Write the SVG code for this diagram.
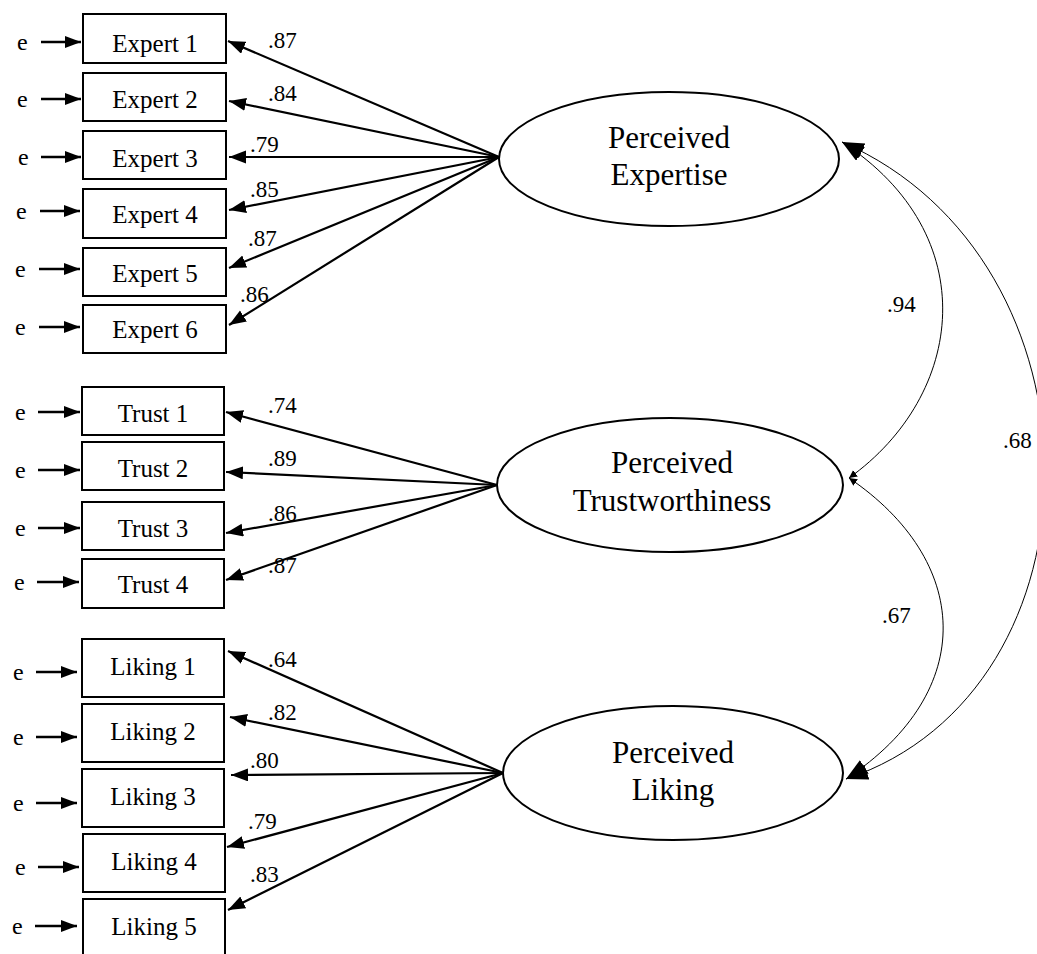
<svg xmlns="http://www.w3.org/2000/svg" width="1037" height="954" viewBox="0 0 1037 954">
<style>
text{font-family:"Liberation Serif","Times New Roman",serif;fill:#000}
.box{fill:#fff;stroke:#000;stroke-width:2}
.ell{fill:#fff;stroke:#000;stroke-width:2}
.bt{font-size:25px;text-anchor:middle}
.et{font-size:31px;text-anchor:middle}
.lb{font-size:23px}
.e{font-size:24px}
.ld{stroke:#000;stroke-width:2.2;fill:none;marker-end:url(#ah)}
.er{stroke:#000;stroke-width:2.4;fill:none;marker-end:url(#eh)}
.cv{stroke:#000;stroke-width:1;fill:none}
</style>
<defs>
<marker id="ah" markerUnits="userSpaceOnUse" markerWidth="18" markerHeight="14" refX="17" refY="6.5" orient="auto"><path d="M0,0 L17,6.5 L0,13 z" fill="#000"/></marker>
<marker id="eh" markerUnits="userSpaceOnUse" markerWidth="17" markerHeight="13" refX="16" refY="6" orient="auto"><path d="M0,0 L16,6 L0,12 z" fill="#000"/></marker>
<marker id="bh" markerUnits="userSpaceOnUse" markerWidth="23" markerHeight="17" refX="22" refY="8" orient="auto-start-reverse"><path d="M0,0 L22,8 L0,16 z" fill="#000"/></marker>
<marker id="sh" markerUnits="userSpaceOnUse" markerWidth="10" markerHeight="10" refX="8" refY="4" orient="auto-start-reverse"><path d="M0,0 L8,4 L0,8 z" fill="#000"/></marker>
</defs>

<g id="connectors">
<!-- error arrows -->
<path class="er" d="M41,42 H81"/>
<path class="er" d="M41,99 H81"/>
<path class="er" d="M41,157 H81"/>
<path class="er" d="M40,211 H80"/>
<path class="er" d="M39,269 H80"/>
<path class="er" d="M39,327 H80"/>
<path class="er" d="M38,412 H80"/>
<path class="er" d="M38,470 H80"/>
<path class="er" d="M38,528 H80"/>
<path class="er" d="M37,582 H79"/>
<path class="er" d="M36,672 H77"/>
<path class="er" d="M36,737 H77"/>
<path class="er" d="M36,803 H77"/>
<path class="er" d="M38,867 H79"/>
<path class="er" d="M35,926 H77"/>
<!-- loadings -->
<path class="ld" d="M499,157 L228,41"/>
<path class="ld" d="M499,157 L229,101"/>
<path class="ld" d="M499,157 L229,157"/>
<path class="ld" d="M499,157 L229,210"/>
<path class="ld" d="M499,157 L229,268"/>
<path class="ld" d="M499,157 L229,325"/>
<path class="ld" d="M497,485 L226,412"/>
<path class="ld" d="M497,485 L226,472"/>
<path class="ld" d="M497,485 L226,533"/>
<path class="ld" d="M497,485 L226,580"/>
<path class="ld" d="M503,773 L228,651"/>
<path class="ld" d="M503,773 L230,717"/>
<path class="ld" d="M503,773 L231,775"/>
<path class="ld" d="M503,773 L227,847"/>
<path class="ld" d="M503,773 L228,910"/>
<!-- covariances -->
<path class="cv" d="M849,478 C965,395 985,235 842,142" marker-start="url(#sh)" marker-end="url(#bh)"/>
<path class="cv" d="M849,478 C970,560 980,690 846,779" marker-start="url(#sh)" marker-end="url(#bh)"/>
<path class="cv" d="M842,142 C1112,260 1112,690 846,779" marker-start="url(#bh)" marker-end="url(#bh)"/>
<!-- labels -->
<text class="lb" x="268" y="48">.87</text>
<text class="lb" x="268" y="101">.84</text>
<text class="lb" x="250" y="152">.79</text>
<text class="lb" x="250" y="197">.85</text>
<text class="lb" x="248" y="246">.87</text>
<text class="lb" x="240" y="302">.86</text>
<text class="lb" x="268" y="413">.74</text>
<text class="lb" x="268" y="466">.89</text>
<text class="lb" x="268" y="521">.86</text>
<text class="lb" x="268" y="573">.87</text>
<text class="lb" x="268" y="667">.64</text>
<text class="lb" x="268" y="720">.82</text>
<text class="lb" x="250" y="768">.80</text>
<text class="lb" x="248" y="829">.79</text>
<text class="lb" x="250" y="882">.83</text>
<text class="lb" x="887" y="312">.94</text>
<text class="lb" x="882" y="623">.67</text>
<text class="lb" x="1003" y="448">.68</text>
</g>

<g id="errors">
<text class="e" x="17" y="50">e</text>
<text class="e" x="17" y="107">e</text>
<text class="e" x="18" y="165">e</text>
<text class="e" x="16" y="219">e</text>
<text class="e" x="15" y="277">e</text>
<text class="e" x="15" y="335">e</text>
<text class="e" x="15" y="420">e</text>
<text class="e" x="15" y="478">e</text>
<text class="e" x="15" y="536">e</text>
<text class="e" x="14" y="590">e</text>
<text class="e" x="13" y="680">e</text>
<text class="e" x="13" y="745">e</text>
<text class="e" x="13" y="811">e</text>
<text class="e" x="15" y="875">e</text>
<text class="e" x="12" y="934">e</text>
</g>

<g id="expert1"><rect class="box" x="83" y="14" width="143" height="49"/><text class="bt" x="155" y="52">Expert 1</text></g>
<g id="expert2"><rect class="box" x="83" y="73" width="143" height="48"/><text class="bt" x="155" y="108">Expert 2</text></g>
<g id="expert3"><rect class="box" x="83" y="131" width="143" height="48"/><text class="bt" x="155" y="167">Expert 3</text></g>
<g id="expert4"><rect class="box" x="83" y="189" width="143" height="49"/><text class="bt" x="155" y="223">Expert 4</text></g>
<g id="expert5"><rect class="box" x="83" y="248" width="143" height="48"/><text class="bt" x="155" y="282">Expert 5</text></g>
<g id="expert6"><rect class="box" x="83" y="305" width="143" height="48"/><text class="bt" x="155" y="338">Expert 6</text></g>

<g id="trust1"><rect class="box" x="82" y="387" width="142" height="48"/><text class="bt" x="153" y="422">Trust 1</text></g>
<g id="trust2"><rect class="box" x="82" y="442" width="142" height="48"/><text class="bt" x="153" y="477">Trust 2</text></g>
<g id="trust3"><rect class="box" x="82" y="502" width="142" height="48"/><text class="bt" x="153" y="537">Trust 3</text></g>
<g id="trust4"><rect class="box" x="82" y="559" width="142" height="49"/><text class="bt" x="153" y="593">Trust 4</text></g>

<g id="liking1"><rect class="box" x="82" y="639" width="142" height="58"/><text class="bt" x="153" y="675">Liking 1</text></g>
<g id="liking2"><rect class="box" x="82" y="704" width="142" height="58"/><text class="bt" x="153" y="740">Liking 2</text></g>
<g id="liking3"><rect class="box" x="82" y="769" width="142" height="58"/><text class="bt" x="153" y="805">Liking 3</text></g>
<g id="liking4"><rect class="box" x="83" y="834" width="142" height="58"/><text class="bt" x="154" y="870">Liking 4</text></g>
<g id="liking5"><rect class="box" x="83" y="899" width="142" height="60"/><text class="bt" x="154" y="935">Liking 5</text></g>

<g id="expertise"><ellipse class="ell" cx="669" cy="159" rx="170" ry="67"/><text class="et" x="669" y="148">Perceived</text><text class="et" x="669" y="185">Expertise</text></g>
<g id="trustworthiness"><ellipse class="ell" cx="670" cy="485" rx="173" ry="67"/><text class="et" x="672" y="473">Perceived</text><text class="et" x="672" y="511">Trustworthiness</text></g>
<g id="liking"><ellipse class="ell" cx="673" cy="773" rx="170" ry="67"/><text class="et" x="673" y="763">Perceived</text><text class="et" x="673" y="800">Liking</text></g>
</svg>
